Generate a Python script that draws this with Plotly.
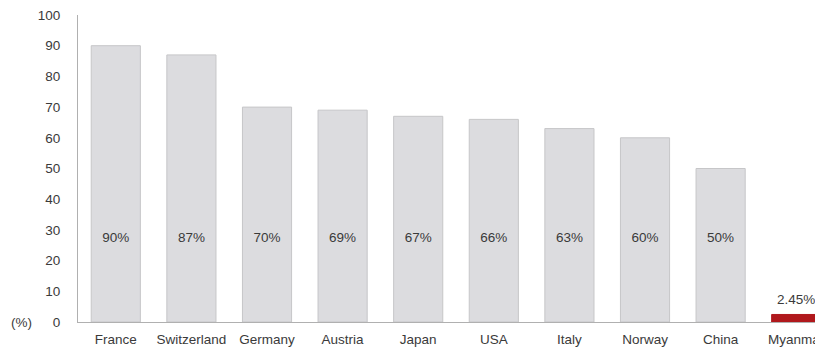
import plotly.graph_objects as go

countries = ["France", "Switzerland", "Germany", "Austria", "Japan", "USA", "Italy", "Norway", "China", "Myanmar"]
values = [90, 87, 70, 69, 67, 66, 63, 60, 50, 2.45]
labels = ["90%", "87%", "70%", "69%", "67%", "66%", "63%", "60%", "50%", "2.45%"]
label_y = [27.2] * 9 + [6.8]
y_ticks = list(range(0, 101, 10))

colors = ["#dcdcdf"] * 9 + ["#b0181c"]
line_colors = ["#c6c6c8"] * 9 + ["#b0181c"]

font = dict(family="Liberation Sans, Arial, sans-serif", size=13.5, color="#3a3a3a")

fig = go.Figure()
fig.add_trace(go.Bar(
    x=countries, y=values, width=0.65,
    marker=dict(color=colors, line=dict(color=line_colors, width=1)),
    hoverinfo="skip",
))
fig.add_trace(go.Scatter(
    x=countries, y=label_y, mode="text", text=labels,
    textfont=dict(family=font["family"], size=13.5, color="#3a3a3a"),
    hoverinfo="skip",
))
fig.add_annotation(x=0, xref="paper", xanchor="right", xshift=-44, y=0, yref="y",
                   text="(%)", showarrow=False, font=font)
fig.update_layout(
    width=823, height=349,
    margin=dict(l=70, r=0, t=7, b=35),
    paper_bgcolor="white", plot_bgcolor="white",
    showlegend=False, font=font,
    xaxis=dict(type="category", range=[-0.5, 9.46], showline=True, linecolor="#b0b0b0",
               linewidth=1, ticks="", showgrid=False, zeroline=False, tickfont=font,
               ticklabelstandoff=5, ticklabeloverflow="allow"),
    yaxis=dict(range=[0, 100], tickvals=y_ticks, showline=True, linecolor="#b0b0b0",
               linewidth=1, ticks="", showgrid=False, zeroline=False, tickfont=font,
               ticklabelstandoff=14, ticklabeloverflow="allow"),
)
fig.write_html("out.html")
